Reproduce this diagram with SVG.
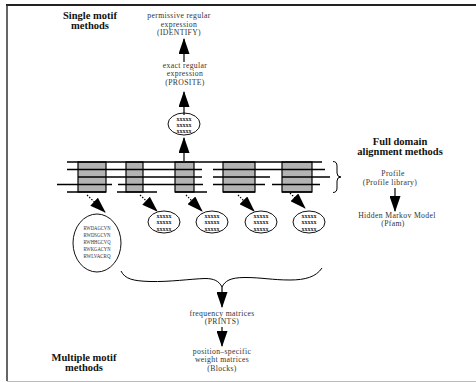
<svg xmlns="http://www.w3.org/2000/svg" width="476" height="382" viewBox="0 0 476 382">
<style>
.t{font-family:"Liberation Serif","Times New Roman",serif;font-size:7.7px;letter-spacing:0.35px;fill:#333;text-anchor:middle}
.b{font-family:"Liberation Serif","Times New Roman",serif;font-size:10.5px;font-weight:bold;fill:#111;text-anchor:middle}
.x{font-family:"Liberation Serif","Times New Roman",serif;font-size:6px;font-weight:bold;fill:#222;text-anchor:middle}
.s{font-family:"Liberation Serif","Times New Roman",serif;font-size:6px;fill:#333;text-anchor:middle}
.el{fill:#fff;stroke:#111;stroke-width:1}
.row{stroke:#000;stroke-width:1.3;fill:none}
.box{fill:#b3b3b3;stroke:#000;stroke-width:1.2}
.ar{stroke:#000;stroke-width:1.2;fill:none;marker-end:url(#ah)}
.ard{stroke:#000;stroke-width:1.2;fill:none;stroke-dasharray:1.5 1.5;marker-end:url(#ah)}
</style>
<defs>
<marker id="ah" viewBox="0 0 16 11" refX="15" refY="5.5" markerWidth="16" markerHeight="11" markerUnits="userSpaceOnUse" orient="auto">
<path d="M0,0 L16,5.5 L0,11 z" fill="#000"/>
</marker>
</defs>
<rect width="476" height="382" fill="#fff"/>
<g id="frame">
<line x1="6" y1="5" x2="476" y2="5" stroke="#222" stroke-width="2"/>
<line x1="7" y1="5" x2="7" y2="381" stroke="#333" stroke-width="1.5"/>
<line x1="7" y1="381.5" x2="476" y2="381.5" stroke="#bbb" stroke-width="1"/>
</g>
<g id="labels">
<text class="b" x="90" y="19">Single motif</text>
<text class="b" x="90" y="29">methods</text>
<text class="b" x="400" y="145">Full domain</text>
<text class="b" x="400" y="155">alignment methods</text>
<text class="b" x="84" y="361">Multiple motif</text>
<text class="b" x="84" y="371">methods</text>
</g>
<g id="identify">
<text class="t" x="179" y="18">permissive regular</text>
<text class="t" x="179" y="26.6">expression</text>
<text class="t" x="179" y="35.2">(IDENTIFY)</text>
</g>
<g id="prosite">
<text class="t" x="185" y="67.5">exact regular</text>
<text class="t" x="185" y="76.1">expression</text>
<text class="t" x="185" y="84.7">(PROSITE)</text>
</g>
<g id="motif-top">
<ellipse class="el" cx="184" cy="124" rx="16" ry="11"/>
<text class="x" x="184" y="120.5">xxxxx</text>
<text class="x" x="184" y="126.5">xxxxx</text>
<text class="x" x="184" y="132.5">xxxxx</text>
</g>
<g id="alignment">
<rect class="box" x="78" y="162" width="28" height="30"/>
<rect class="box" x="126" y="162" width="17" height="30"/>
<rect class="box" x="175" y="162" width="19" height="30"/>
<rect class="box" x="223" y="162" width="32" height="30"/>
<rect class="box" x="282" y="162" width="30" height="30"/>
<path class="row" d="M67,162 H322"/>
<path class="row" d="M67,169.5 H202 M213,169.5 H325"/>
<path class="row" d="M78,177 H202 M213,177 H270 M282,177 H330"/>
<path class="row" d="M57,184.5 H112 M118,184.5 H203 M213,184.5 H265 M272,184.5 H320"/>
<path class="row" d="M67,192 H106 M117,192 H157 M175,192 H207 M223,192 H255 M282,192 H312"/>
</g>
<g id="brace-right">
<path d="M333,161.5 Q337,161.5 337,166 L337,173 Q337,177 341,177 Q337,177 337,181 L337,188 Q337,192.5 333,192.5" fill="none" stroke="#000" stroke-width="1"/>
</g>
<g id="profile">
<text class="t" x="393" y="176">Profile</text>
<text class="t" x="390" y="185">(Profile library)</text>
</g>
<g id="hmm">
<text class="t" x="397" y="217.5">Hidden Markov Model</text>
<text class="t" x="393" y="226.3">(Pfam)</text>
</g>
<g id="motif-block">
<ellipse class="el" cx="97" cy="243" rx="24" ry="29"/>
<text class="s" x="97" y="229.5" textLength="27" lengthAdjust="spacingAndGlyphs">RWDAGCVN</text>
<text class="s" x="97" y="236.5" textLength="27" lengthAdjust="spacingAndGlyphs">RWDSGCVN</text>
<text class="s" x="97" y="243.5" textLength="27" lengthAdjust="spacingAndGlyphs">RWHHGCVQ</text>
<text class="s" x="97" y="250.5" textLength="27" lengthAdjust="spacingAndGlyphs">RWKGACYN</text>
<text class="s" x="97" y="257.5" textLength="27" lengthAdjust="spacingAndGlyphs">RWLVACRQ</text>
</g>
<g id="motif-2">
<ellipse class="el" cx="164" cy="222" rx="16" ry="11"/>
<text class="x" x="164" y="217.5">xxxxx</text>
<text class="x" x="164" y="224">xxxxx</text>
<text class="x" x="164" y="230.5">xxxxx</text>
</g>
<g id="motif-3">
<ellipse class="el" cx="212" cy="222" rx="16" ry="11"/>
<text class="x" x="212" y="217.5">xxxxx</text>
<text class="x" x="212" y="224">xxxxx</text>
<text class="x" x="212" y="230.5">xxxxx</text>
</g>
<g id="motif-4">
<ellipse class="el" cx="261" cy="222" rx="16" ry="11"/>
<text class="x" x="261" y="217.5">xxxxx</text>
<text class="x" x="261" y="224">xxxxx</text>
<text class="x" x="261" y="230.5">xxxxx</text>
</g>
<g id="motif-5">
<ellipse class="el" cx="309" cy="222" rx="16" ry="11"/>
<text class="x" x="309" y="217.5">xxxxx</text>
<text class="x" x="309" y="224">xxxxx</text>
<text class="x" x="309" y="230.5">xxxxx</text>
</g>
<g id="prints">
<text class="t" x="222" y="315.5">frequency matrices</text>
<text class="t" x="222" y="324.1">(PRINTS)</text>
</g>
<g id="blocks">
<text class="t" x="222" y="353.5">position–specific</text>
<text class="t" x="222" y="362.1">weight matrices</text>
<text class="t" x="222" y="370.7">(Blocks)</text>
</g>
<g id="connectors">
<path class="ar" d="M184,62 V39"/>
<path class="ar" d="M184,115 V92"/>
<path class="ar" d="M184,161 V138"/>
<path class="ar" d="M395,188 V211"/>
<path class="ard" d="M87,195 L105,212"/>
<path class="ard" d="M140,195 L157,211"/>
<path class="ard" d="M186,195 L202,211"/>
<path class="ard" d="M238,195 L254,211"/>
<path class="ard" d="M290,193 L305,208"/>
<path d="M121,271 C125,279 133,281 150,281.5 C170,282 190,279 205,278.5 C214,278.5 219,281 222,287 C225,281 230,277.5 245,277.5 C262,277.5 272,280 290,280 C305,280 316,277 322,268" fill="none" stroke="#000" stroke-width="1"/>
<path class="ar" d="M222,287 V307"/>
<path class="ar" d="M222,327 V346"/>
</g>
</svg>
